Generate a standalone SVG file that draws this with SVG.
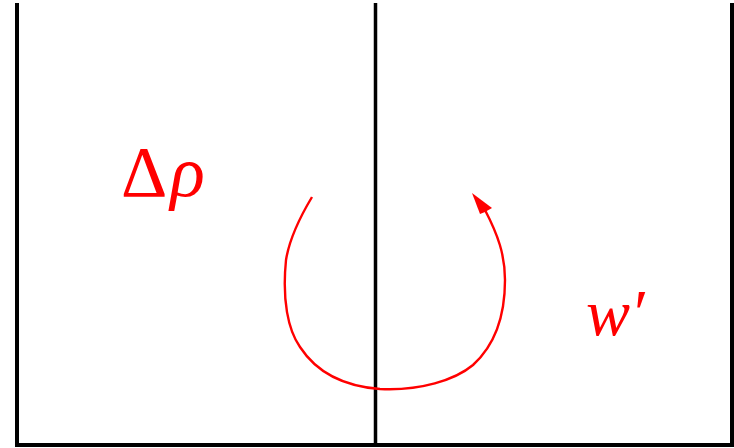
<svg xmlns="http://www.w3.org/2000/svg" width="734" height="448" viewBox="0 0 734 448">
<style>
.wall{stroke:#000;fill:none;stroke-linecap:butt}
.flow{stroke:#ff0000;stroke-width:2.4;fill:none}
</style>
<rect width="734" height="448" fill="#fff"/>
<g id="walls">
<line class="wall" x1="17" y1="3" x2="17" y2="447" stroke-width="4"/>
<line class="wall" x1="375.5" y1="3" x2="375.5" y2="445" stroke-width="3.5"/>
<line class="wall" x1="732" y1="3" x2="732" y2="447" stroke-width="4"/>
<line class="wall" x1="15" y1="445" x2="734" y2="445" stroke-width="4"/>
</g>
<g id="label-drho"><text x="121" y="196" fill="#ff0000" font-family="Liberation Serif, serif" font-size="72">Δ<tspan dx="3" font-style="italic">ρ</tspan></text></g>
<g id="label-w"><text x="586" y="335" fill="#ff0000" font-family="Liberation Serif, serif" font-size="66" font-style="italic">w′</text></g>
<g id="connectors">
<path class="flow" d="M312,197 C303,212 290,235 286,260 C282,300 288,330 300,347 C315,370 340,386 380,389 C420,391 455,380 473,365 C495,345 505,315 505,280 C505,255 498,235 485,210"/>
<path d="M472,193 L492,208 L485,212 L480,214 Z" fill="#ff0000"/>
</g>
</svg>
